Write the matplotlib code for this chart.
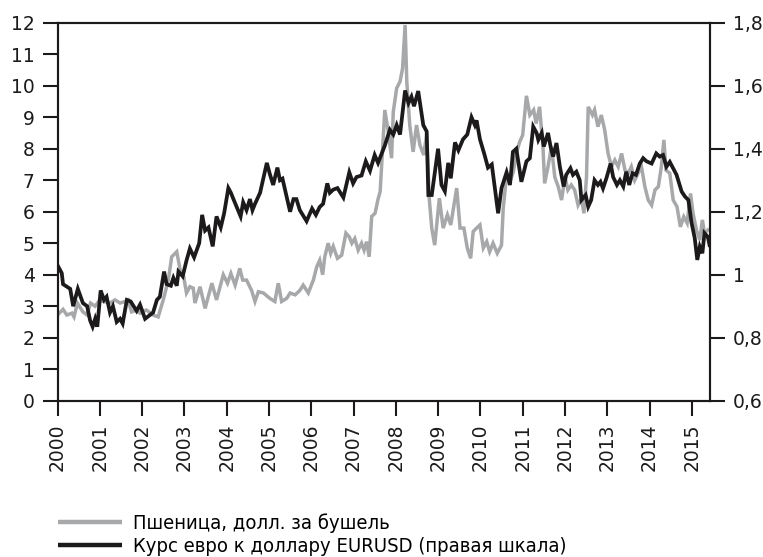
import matplotlib
matplotlib.use("Agg")
import matplotlib.pyplot as plt
from matplotlib.font_manager import FontProperties, findfont
from matplotlib.ticker import FixedLocator, FuncFormatter

# wheat, USD per bushel (left axis) - date as decimal year, value
wheat_t = [2000.00, 2000.13, 2000.22, 2000.34, 2000.39, 2000.47, 2000.60, 2000.70, 2000.78, 2000.89,
           2001.00, 2001.08, 2001.24, 2001.36, 2001.48, 2001.60, 2001.67, 2001.75, 2001.87, 2001.95,
           2002.10, 2002.26, 2002.38, 2002.50, 2002.62, 2002.70, 2002.82, 2002.90, 2002.97,
           2003.05, 2003.13, 2003.21, 2003.25, 2003.37, 2003.49, 2003.65, 2003.76, 2003.92,
           2004.02, 2004.10, 2004.20, 2004.31, 2004.38, 2004.47, 2004.59, 2004.67, 2004.75, 2004.87,
           2005.02, 2005.14, 2005.22, 2005.30, 2005.42, 2005.50, 2005.62, 2005.73, 2005.81, 2005.93,
           2006.05, 2006.13, 2006.20, 2006.27, 2006.32, 2006.40, 2006.46, 2006.52, 2006.62, 2006.72,
           2006.82, 2006.90, 2006.96, 2007.03, 2007.11, 2007.19, 2007.25, 2007.31, 2007.37, 2007.43,
           2007.51, 2007.58, 2007.63, 2007.74, 2007.82, 2007.90, 2007.94, 2008.02, 2008.10, 2008.16,
           2008.22, 2008.26, 2008.33, 2008.41, 2008.49, 2008.57, 2008.66, 2008.73, 2008.79, 2008.85,
           2008.92, 2009.03, 2009.12, 2009.22, 2009.30, 2009.44, 2009.52, 2009.61, 2009.69, 2009.77,
           2009.83, 2009.91, 2009.99, 2010.07, 2010.15, 2010.22, 2010.30, 2010.40, 2010.50, 2010.54,
           2010.62, 2010.70, 2010.78, 2010.86, 2010.93, 2011.00, 2011.09, 2011.17, 2011.26, 2011.32,
           2011.40, 2011.48, 2011.52, 2011.60, 2011.68, 2011.76, 2011.84, 2011.92, 2012.00, 2012.07,
           2012.15, 2012.23, 2012.31, 2012.39, 2012.45, 2012.51, 2012.55, 2012.65, 2012.70, 2012.78,
           2012.86, 2012.94, 2013.02, 2013.10, 2013.18, 2013.26, 2013.34, 2013.42, 2013.50, 2013.57,
           2013.65, 2013.73, 2013.81, 2013.89, 2013.97, 2014.05, 2014.13, 2014.21, 2014.28, 2014.34,
           2014.39, 2014.48, 2014.56, 2014.65, 2014.73, 2014.81, 2014.89, 2014.97, 2015.03, 2015.11,
           2015.19, 2015.25, 2015.30, 2015.38]
wheat_v = [2.72, 2.90, 2.72, 2.78, 2.66, 3.10, 2.82, 2.72, 3.10, 3.00,
           3.20, 3.15, 3.10, 3.20, 3.10, 3.15, 3.20, 2.82, 2.88, 2.78,
           2.88, 2.72, 2.66, 3.20, 3.83, 4.57, 4.73, 4.15, 4.04,
           3.42, 3.62, 3.57, 3.10, 3.62, 2.93, 3.73, 3.20, 4.00,
           3.73, 4.04, 3.67, 4.20, 3.83, 3.83, 3.50, 3.15, 3.46, 3.42,
           3.25, 3.15, 3.73, 3.15, 3.25, 3.42, 3.36, 3.50, 3.67, 3.42,
           3.83, 4.25, 4.46, 4.00, 4.57, 5.00, 4.68, 4.90, 4.52, 4.62,
           5.32, 5.20, 5.00, 5.15, 4.78, 5.00, 4.78, 5.05, 4.57, 5.85,
           5.95, 6.40, 6.64, 9.23, 8.55, 7.70, 9.17, 9.92, 10.13, 10.55,
           11.93, 10.13, 8.75, 7.90, 8.75, 8.12, 7.80, 8.45, 6.43, 5.48,
           4.94, 6.43, 5.48, 5.90, 5.58, 6.75, 5.48, 5.48, 4.85, 4.52,
           5.37, 5.48, 5.58, 4.85, 5.05, 4.73, 5.00, 4.68, 4.94, 6.10,
           7.16, 6.95, 7.27, 7.90, 8.22, 8.43, 9.68, 9.07, 9.23, 8.80,
           9.33, 8.07, 6.90, 7.43, 8.07, 7.10, 6.80, 6.37, 7.10, 6.69,
           6.85, 6.69, 6.21, 6.42, 5.95, 7.10, 9.33, 9.07, 9.23, 8.70,
           9.07, 8.60, 7.85, 7.43, 7.64, 7.43, 7.85, 7.32, 7.22, 7.43,
           7.00, 7.22, 7.43, 6.80, 6.37, 6.21, 6.69, 6.80, 7.43, 8.28,
           7.32, 7.22, 6.37, 6.16, 5.52, 5.84, 5.64, 6.58, 5.95, 5.42,
           5.10, 5.74, 5.32, 5.42]

# EUR/USD (right axis)
eur_t = [2000.00, 2000.10, 2000.13, 2000.30, 2000.37, 2000.48, 2000.60, 2000.70, 2000.77, 2000.83,
         2000.89, 2000.94, 2001.02, 2001.10, 2001.16, 2001.24, 2001.31, 2001.40, 2001.48, 2001.54,
         2001.64, 2001.73, 2001.87, 2001.95, 2002.07, 2002.26, 2002.35, 2002.42, 2002.52, 2002.58,
         2002.68, 2002.74, 2002.82, 2002.86, 2002.96, 2003.05, 2003.13, 2003.23, 2003.35, 2003.42,
         2003.49, 2003.57, 2003.67, 2003.76, 2003.86, 2003.94, 2004.04, 2004.10, 2004.16, 2004.33,
         2004.39, 2004.47, 2004.55, 2004.61, 2004.67, 2004.79, 2004.95, 2005.02, 2005.10, 2005.20,
         2005.26, 2005.32, 2005.50, 2005.58, 2005.65, 2005.73, 2005.89, 2006.02, 2006.11, 2006.20,
         2006.28, 2006.38, 2006.44, 2006.52, 2006.62, 2006.76, 2006.90, 2006.99, 2007.07, 2007.19,
         2007.29, 2007.39, 2007.50, 2007.58, 2007.74, 2007.86, 2007.94, 2008.02, 2008.10, 2008.22,
         2008.30, 2008.37, 2008.43, 2008.53, 2008.65, 2008.73, 2008.77, 2008.85, 2009.00, 2009.08,
         2009.16, 2009.24, 2009.30, 2009.40, 2009.48, 2009.59, 2009.69, 2009.79, 2009.87, 2009.91,
         2009.99, 2010.10, 2010.18, 2010.27, 2010.42, 2010.50, 2010.62, 2010.70, 2010.77, 2010.85,
         2010.97, 2011.09, 2011.17, 2011.25, 2011.33, 2011.37, 2011.45, 2011.50, 2011.60, 2011.66,
         2011.72, 2011.80, 2011.88, 2011.97, 2012.03, 2012.13, 2012.19, 2012.27, 2012.35, 2012.39,
         2012.49, 2012.55, 2012.62, 2012.70, 2012.78, 2012.84, 2012.90, 2012.98, 2013.08, 2013.14,
         2013.23, 2013.30, 2013.38, 2013.45, 2013.52, 2013.60, 2013.68, 2013.77, 2013.85, 2013.93,
         2014.05, 2014.16, 2014.24, 2014.32, 2014.40, 2014.48, 2014.64, 2014.76, 2014.84, 2014.92,
         2014.99, 2015.07, 2015.13, 2015.19, 2015.25, 2015.30, 2015.38, 2015.42]
eur_v = [1.030, 1.005, 0.970, 0.955, 0.900, 0.955, 0.910, 0.900, 0.855, 0.835,
         0.860, 0.835, 0.950, 0.920, 0.930, 0.880, 0.900, 0.850, 0.860, 0.845,
         0.920, 0.915, 0.885, 0.905, 0.860, 0.880, 0.920, 0.930, 1.010, 0.970,
         0.965, 0.990, 0.965, 1.010, 0.995, 1.045, 1.083, 1.055, 1.100, 1.190,
         1.140, 1.150, 1.090, 1.185, 1.150, 1.195, 1.275, 1.260, 1.240, 1.185,
         1.230, 1.205, 1.240, 1.205, 1.225, 1.260, 1.355, 1.320, 1.285, 1.340,
         1.300, 1.305, 1.200, 1.240, 1.240, 1.205, 1.170, 1.210, 1.190, 1.215,
         1.225, 1.290, 1.260, 1.270, 1.275, 1.245, 1.325, 1.290, 1.310, 1.315,
         1.360, 1.330, 1.380, 1.355, 1.410, 1.460, 1.445, 1.475, 1.445, 1.585,
         1.545, 1.565, 1.535, 1.583, 1.475, 1.455, 1.253, 1.253, 1.400, 1.285,
         1.265, 1.355, 1.306, 1.420, 1.395, 1.430, 1.445, 1.500, 1.475, 1.490,
         1.430, 1.380, 1.340, 1.350, 1.195, 1.275, 1.325, 1.285, 1.390, 1.400,
         1.295, 1.360, 1.370, 1.470, 1.450, 1.428, 1.450, 1.407, 1.450, 1.407,
         1.375, 1.418, 1.343, 1.280, 1.317, 1.338, 1.317, 1.327, 1.300, 1.237,
         1.253, 1.216, 1.237, 1.300, 1.285, 1.295, 1.274, 1.306, 1.353, 1.310,
         1.285, 1.300, 1.280, 1.327, 1.285, 1.322, 1.317, 1.353, 1.370, 1.360,
         1.353, 1.385, 1.375, 1.380, 1.343, 1.358, 1.317, 1.264, 1.248, 1.237,
         1.168, 1.116, 1.047, 1.089, 1.068, 1.132, 1.120, 1.094]

years = list(range(2000, 2016))
left_ticks = list(range(0, 13))
right_ticks = [0.6, 0.8, 1.0, 1.2, 1.4, 1.6, 1.8]

wheat_label = "Пшеница, долл. за бушель"
eur_label = "Курс евро к доллару EURUSD (правая шкала)"

GRAY = "#a7a8aa"
BLACK = "#1c1a1b"

plt.rcParams["font.family"] = ["DejaVu Sans"]

# legend text is set in a narrow face; use condensed DejaVu if it is installed
leg_prop = FontProperties(family="DejaVu Sans", stretch="condensed", size=14.5)
if "Condensed" not in findfont(leg_prop):
    leg_prop = FontProperties(family="DejaVu Sans", size=12.6)

fig = plt.figure(figsize=(7.63, 5.57), dpi=100)
ax = fig.add_axes([0.0754, 0.2806, 0.8551, 0.6786])
ax2 = ax.twinx()

l1, = ax.plot(wheat_t, wheat_v, color=GRAY, lw=2.5, solid_joinstyle="miter")
l2, = ax2.plot(eur_t, eur_v, color=BLACK, lw=2.7, solid_joinstyle="miter")

ax.set_xlim(2000, 2015.43)
ax.set_ylim(0, 12)
ax2.set_ylim(0.6, 1.8)

ax.xaxis.set_major_locator(FixedLocator(years))
ax.set_xticklabels([str(y) for y in years], rotation=90)
ax.yaxis.set_major_locator(FixedLocator(left_ticks))
ax2.yaxis.set_major_locator(FixedLocator(right_ticks))
ax2.yaxis.set_major_formatter(FuncFormatter(lambda v, p: f"{v:g}".replace(".", ",")))

for a in (ax, ax2):
    for s in a.spines.values():
        s.set_linewidth(1.5)
        s.set_color(BLACK)
    a.tick_params(direction="out", length=10.5, width=1.5, color=BLACK,
                  labelsize=13.5, labelcolor=BLACK, pad=6)
ax.tick_params(axis="x", pad=6)

leg = fig.legend([l1, l2], [wheat_label, eur_label], loc="upper left",
                 bbox_to_anchor=(0.076, 0.079), frameon=False,
                 handlelength=3.2, handletextpad=0.5, labelspacing=0.22,
                 borderaxespad=0, borderpad=0, prop=leg_prop)
for h in leg.legend_handles:
    h.set_linewidth(3.2)
    h.set_solid_capstyle("butt")

fig.savefig("out.png", dpi=100)
